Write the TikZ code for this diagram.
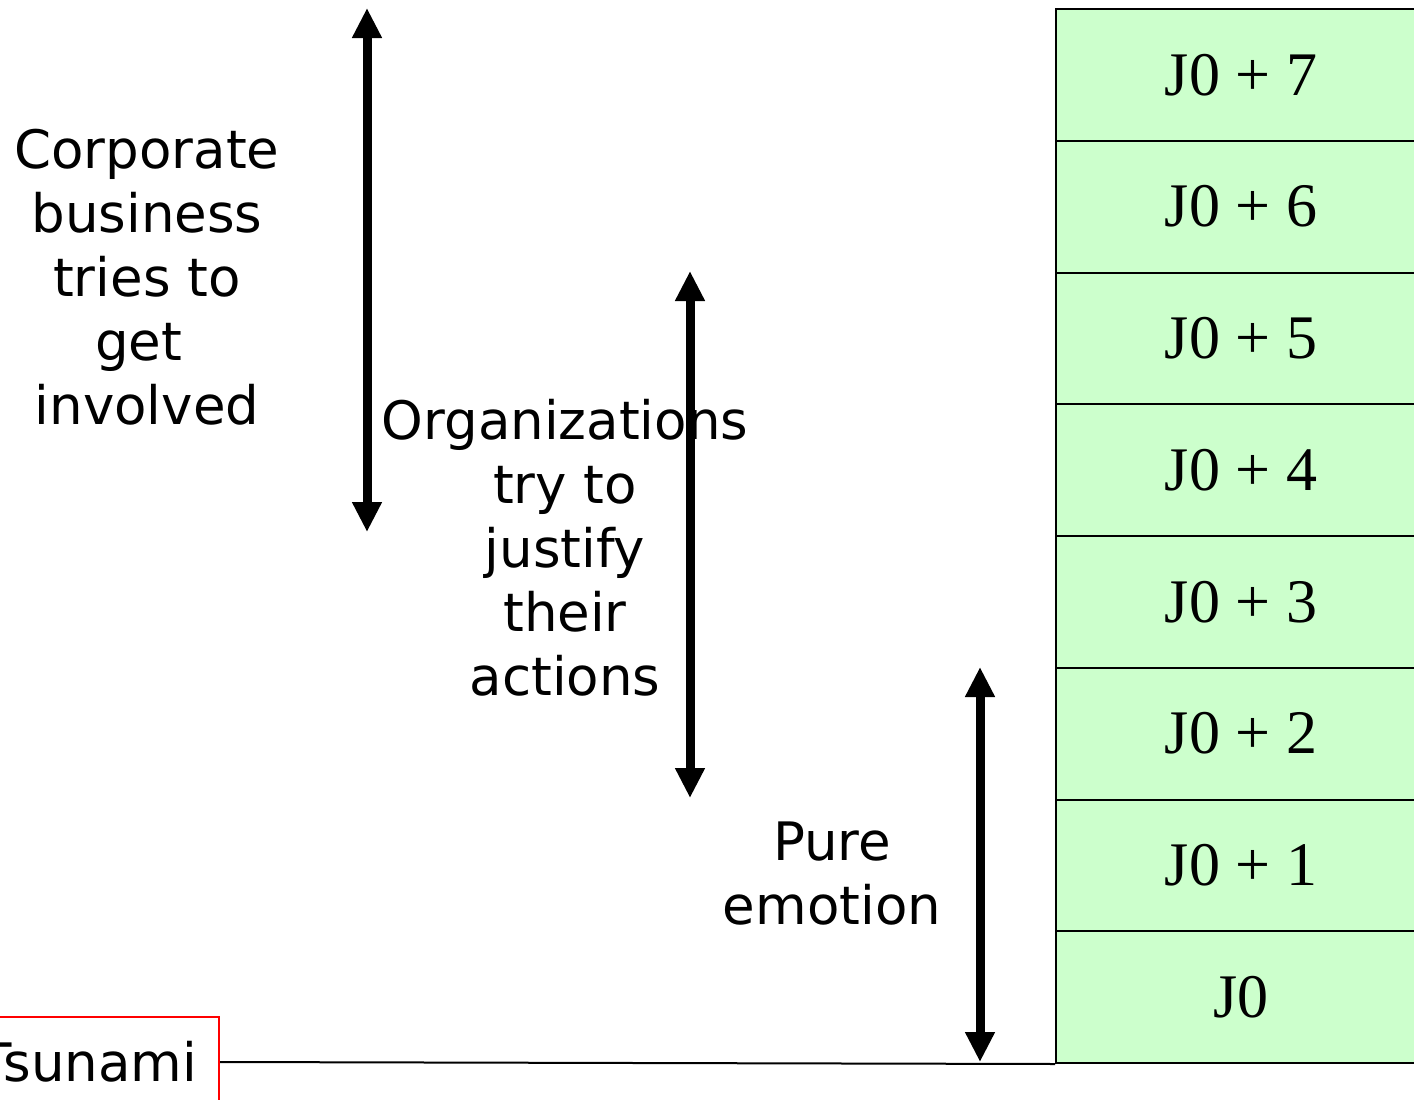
\documentclass[tikz,border=0pt]{standalone}
\usepackage{fontspec}
\setmainfont{DejaVu Sans}
\newfontfamily\timesfont{Liberation Serif}
\usetikzlibrary{arrows.meta}
\definecolor{boxgreen}{HTML}{CCFFCC}
\tikzset{
  dayrow/.style={draw=black, line width=2pt, fill=boxgreen, minimum width=370pt, minimum height=131.75pt, inner sep=0pt, anchor=north west, font=\timesfont\fontsize{62}{70}\selectfont},
  phase/.style={line width=9pt, {Triangle[width=28pt,length=30pt]}-{Triangle[width=28pt,length=30pt]}},
  label/.style={align=center, font=\fontsize{53}{64}\selectfont, inner sep=0pt}
}
\begin{document}
\begin{tikzpicture}[x=1pt,y=-1pt]
\useasboundingbox (0,0) rectangle (1414,1100);
% day stack
\foreach \i/\t in {7/{J0 + 7},6/{J0 + 6},5/{J0 + 5},4/{J0 + 4},3/{J0 + 3},2/{J0 + 2},1/{J0 + 1},0/{J0}}{
  \node[dayrow] (j\i) at (1055, {8 + (7-\i)*131.75}) {\raisebox{-3pt}{\t}};
}
% Tsunami box
\node[draw=red, line width=2pt, minimum height=90pt, inner xsep=22pt, anchor=east, font=\fontsize{53}{64}\selectfont] (tsunami) at (220,1062) {Tsunami};
\draw[line width=2pt] (tsunami.east) -- (j0.south west);
% arrows
\coordinate (a1t) at (367,8);
\coordinate (a1b) at (367,532);
\coordinate (a2t) at (690,271);
\coordinate (a2b) at (690,798);
\coordinate (a3t) at (980,667);
\coordinate (a3b) at (980,1062);
\draw[phase] (a1t) -- (a1b);
\draw[phase] (a2t) -- (a2b);
\draw[phase] (a3t) -- (a3b);
% labels
\node[label] (corp) at (147,277) {Corporate\\business\\tries to\\get\hphantom{\ }\\involved};
\node[label] (org) at (565,548) {Organizations\\try to\\justify\\their\\actions};
\node[label] (pure) at (832,874) {Pure\\emotion};
\end{tikzpicture}
\end{document}
